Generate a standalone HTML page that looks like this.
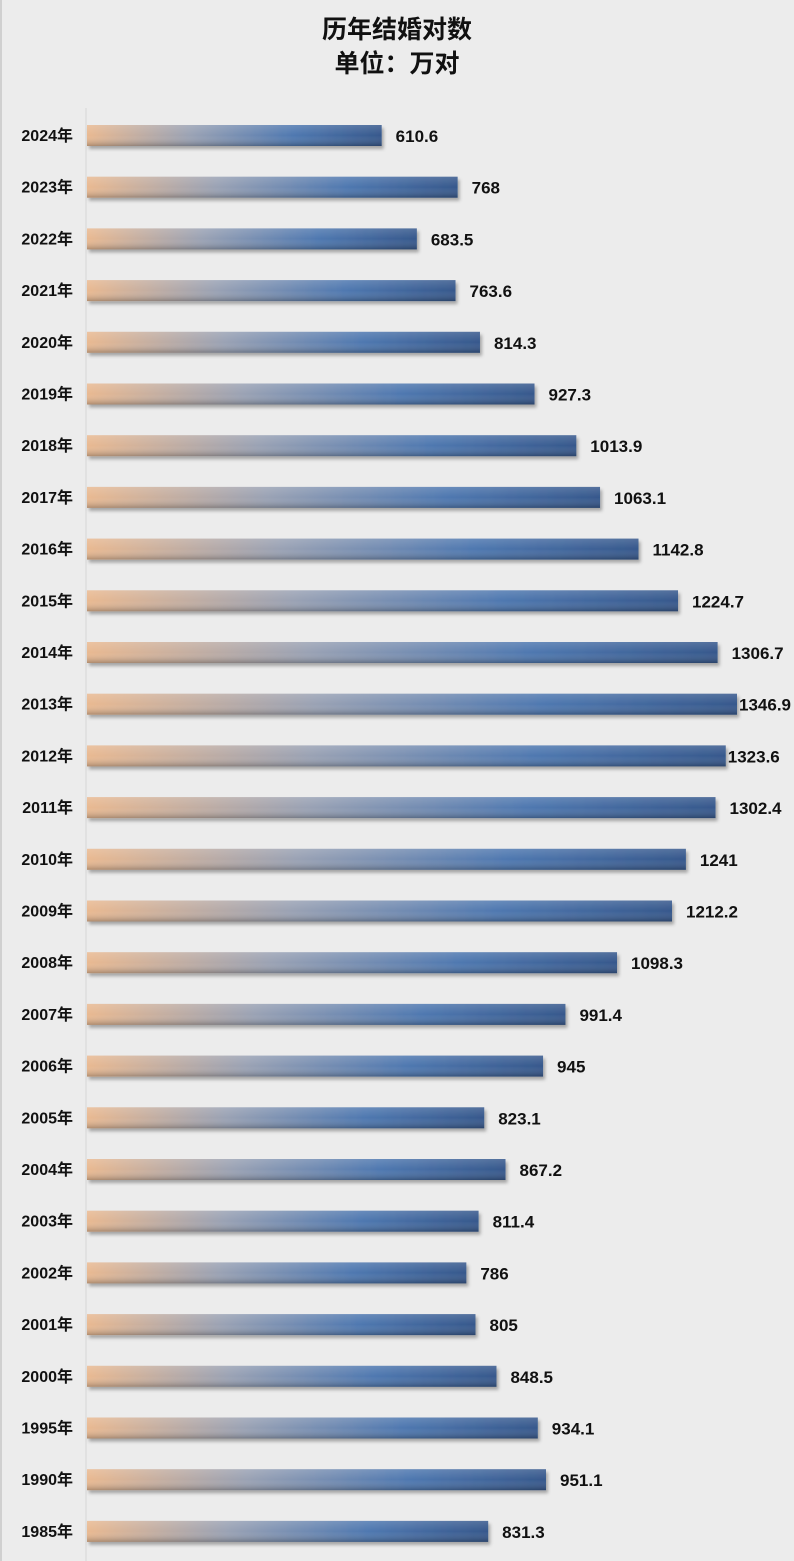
<!DOCTYPE html>
<html><head><meta charset="utf-8"><style>
html,body{margin:0;padding:0;background:#ececec;}
svg{display:block;font-family:"Liberation Sans","Noto Sans CJK SC",sans-serif;}
</style></head><body>
<svg id="chart" width="794" height="1561" viewBox="0 0 794 1561">
<defs>
<linearGradient id="gh" x1="0" x2="1" y1="0" y2="0">
<stop offset="0" stop-color="#e9b991"/><stop offset="0.35" stop-color="#9aa2b4"/><stop offset="0.7" stop-color="#4f78b0"/><stop offset="1" stop-color="#36588c"/>
</linearGradient>
<linearGradient id="gv" x1="0" x2="0" y1="0" y2="1">
<stop offset="0" stop-color="#fff" stop-opacity="0.15"/><stop offset="0.5" stop-color="#fff" stop-opacity="0"/><stop offset="1" stop-color="#000" stop-opacity="0.25"/>
</linearGradient>
<filter id="sh" x="-5%" y="-30%" width="110%" height="180%"><feDropShadow dx="2" dy="3" stdDeviation="1.5" flood-color="#000" flood-opacity="0.3"/></filter>
</defs>
<rect x="0" y="0" width="794" height="1561" fill="#ececec"/>
<line x1="1" y1="0" x2="1" y2="1561" stroke="#d0d0d0" stroke-width="2"/>
<text x="397" y="38" text-anchor="middle" font-size="25" font-weight="bold" fill="#111">历年结婚对数</text>
<text x="397" y="72" text-anchor="middle" font-size="25" font-weight="bold" fill="#111">单位：万对</text>
<line x1="86" y1="108" x2="86" y2="1561" stroke="#d6d6d6" stroke-width="1"/>
<g id="bars"></g>
</svg>
<script>
const categories = ["2024年","2023年","2022年","2021年","2020年","2019年","2018年","2017年","2016年","2015年","2014年","2013年","2012年","2011年","2010年","2009年","2008年","2007年","2006年","2005年","2004年","2003年","2002年","2001年","2000年","1995年","1990年","1985年"];
const values = [610.6,768,683.5,763.6,814.3,927.3,1013.9,1063.1,1142.8,1224.7,1306.7,1346.9,1323.6,1302.4,1241,1212.2,1098.3,991.4,945,823.1,867.2,811.4,786,805,848.5,934.1,951.1,831.3];
const valueLabels = ["610.6","768","683.5","763.6","814.3","927.3","1013.9","1063.1","1142.8","1224.7","1306.7","1346.9","1323.6","1302.4","1241","1212.2","1098.3","991.4","945","823.1","867.2","811.4","786","805","848.5","934.1","951.1","831.3"];
const NS="http://www.w3.org/2000/svg";
const x0=87, scale=(737-87)/1346.9;
const xPos=v=>x0+v*scale;
const yTop=125;
const g=document.getElementById('bars');
categories.forEach((c,i)=>{
  const y=yTop+i*51.7;
  const w=xPos(values[i])-x0;
  const grp=document.createElementNS(NS,'g');
  
  
  const r=document.createElementNS(NS,'rect');
  
  
  r.setAttribute('x',x0);r.setAttribute('y',y);r.setAttribute('width',w);r.setAttribute('height',21);
  r.setAttribute('fill','url(#gh)');r.setAttribute('filter','url(#sh)');
  grp.appendChild(r);
  const r2=document.createElementNS(NS,'rect');
  
  
  r2.setAttribute('x',x0);r2.setAttribute('y',y);r2.setAttribute('width',w);r2.setAttribute('height',21);
  r2.setAttribute('fill','url(#gv)');
  grp.appendChild(r2);
  const t=document.createElementNS(NS,'text');
  
  
  t.setAttribute('x',73);t.setAttribute('y',y+16);t.setAttribute('text-anchor','end');
  t.setAttribute('font-size','16');t.setAttribute('font-weight','bold');t.setAttribute('fill','#111');
  t.textContent=c;grp.appendChild(t);
  const v=document.createElementNS(NS,'text');
  
  
  const xe=xPos(values[i]);
  v.setAttribute('x',xe>720?xe+2:xe+14);v.setAttribute('y',y+17);
  v.setAttribute('font-size','17');v.setAttribute('font-weight','bold');v.setAttribute('fill','#111');
  v.textContent=valueLabels[i];grp.appendChild(v);
  g.appendChild(grp);
});
</script>
</body></html>
